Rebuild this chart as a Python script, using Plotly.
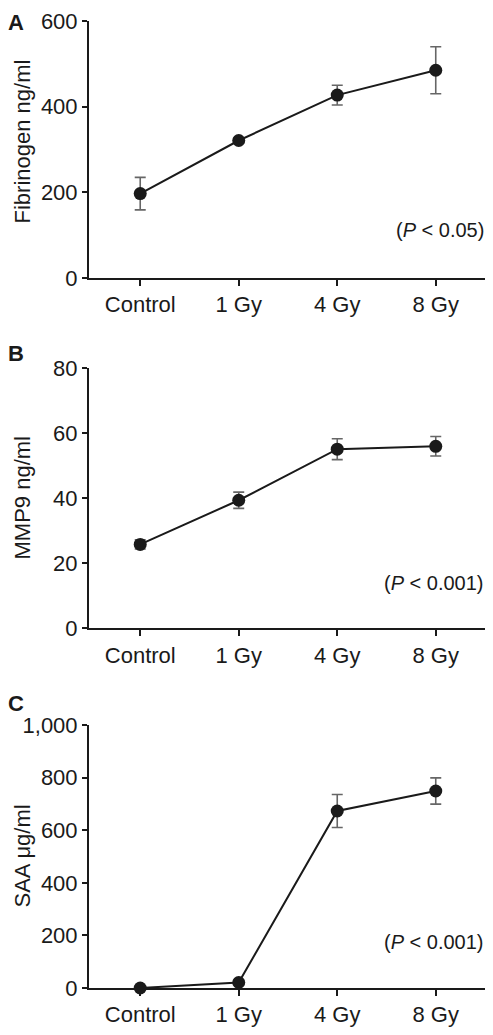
import plotly.graph_objects as go

categories = ["Control", "1 Gy", "4 Gy", "8 Gy"]

fib_mean = [197, 321, 427, 485]
fib_err = [38, 6, 23, 55]

mmp9_mean = [25.8, 39.4, 55.1, 56.0]
mmp9_err = [1.4, 2.5, 3.2, 3.0]

saa_mean = [0, 21, 673, 749]
saa_err = [4, 8, 63, 50]

y_titles = ["Fibrinogen ng/ml", "MMP9 ng/ml", "SAA \u03bcg/ml"]
panel_labels = ["A", "B", "C"]
p_texts = ["(<i>P</i> < 0.05)", "(<i>P</i> < 0.001)", "(<i>P</i> < 0.001)"]
y_ranges = [[0, 600], [0, 80], [0, 1000]]
y_dtick = [200, 20, 200]

# the page body has an 8px margin on every side: size the figure so the page fits the window
OFF = 8
W, H = 493 - 2 * OFF, 1035 - 2 * OFF
FONT = "Liberation Sans, Arial, sans-serif"
INK = "#1a1a1a"


def px_x(px):
    return (px - OFF) / W


def px_y(py):
    return 1 - (py - OFF) / H


# window-pixel geometry (top, bottom) of each plot area
rows_px = [(21, 278), (368.3, 628.3), (725, 988)]
x_px = (89, 485)
label_y_px = [None, 353, 703]
title_y_px = [142, 498, 856]
p_y_px = [230, 583, 942]

fig = go.Figure()
series = [(fib_mean, fib_err), (mmp9_mean, mmp9_err), (saa_mean, saa_err)]

for i, (m, e) in enumerate(series):
    sfx = "" if i == 0 else str(i + 1)
    fig.add_trace(go.Scatter(
        x=categories, y=m,
        mode="lines+markers",
        line=dict(color=INK, width=2),
        marker=dict(color=INK, size=13),
        error_y=dict(type="data", array=e, visible=True, color="#666666",
                     thickness=1.6, width=5.5),
        xaxis="x" + sfx, yaxis="y" + sfx,
        cliponaxis=False, showlegend=False,
    ))
    top, bot = rows_px[i]
    ydom = [px_y(bot), px_y(top)]
    xdom = [px_x(x_px[0]), min(1.0, px_x(x_px[1]))]
    axis_common = dict(showline=True, linecolor=INK, linewidth=2, ticks="outside",
                       tickcolor=INK, tickwidth=2, showgrid=False, zeroline=False,
                       automargin=False, ticklabeloverflow="allow",
                       tickfont=dict(family=FONT, size=22, color=INK))
    fig.update_layout(**{
        "xaxis" + sfx: dict(domain=xdom, anchor="y" + sfx, range=[-0.52, 3.5],
                            ticklen=6, **axis_common),
        "yaxis" + sfx: dict(domain=ydom, anchor="x" + sfx, range=y_ranges[i],
                            dtick=y_dtick[i], ticklen=5, tickformat=",",
                            **axis_common),
    })
    fig.add_annotation(x=0, y=px_y(title_y_px[i]), xref="paper", yref="paper",
                       text=y_titles[i], showarrow=False, textangle=-90,
                       xanchor="left", yanchor="middle", xshift=-1,
                       font=dict(family=FONT, size=22, color=INK))
    if label_y_px[i] is None:
        lab_y, lab_anchor = 1.0, "top"
    else:
        lab_y, lab_anchor = px_y(label_y_px[i]), "middle"
    fig.add_annotation(x=0, y=lab_y, xref="paper", yref="paper",
                       text="<b>" + panel_labels[i] + "</b>", showarrow=False,
                       xanchor="left", yanchor=lab_anchor, xshift=-2,
                       font=dict(family=FONT, size=22, color=INK))
    fig.add_annotation(x=1, y=px_y(p_y_px[i]), xref="paper", yref="paper",
                       text=p_texts[i], showarrow=False,
                       xanchor="right", yanchor="middle", xshift=1,
                       font=dict(family=FONT, size=20, color=INK))

fig.update_layout(width=W, height=H, margin=dict(l=0, r=0, t=0, b=0),
                  paper_bgcolor="white", plot_bgcolor="white")

fig.write_html("out.html")
